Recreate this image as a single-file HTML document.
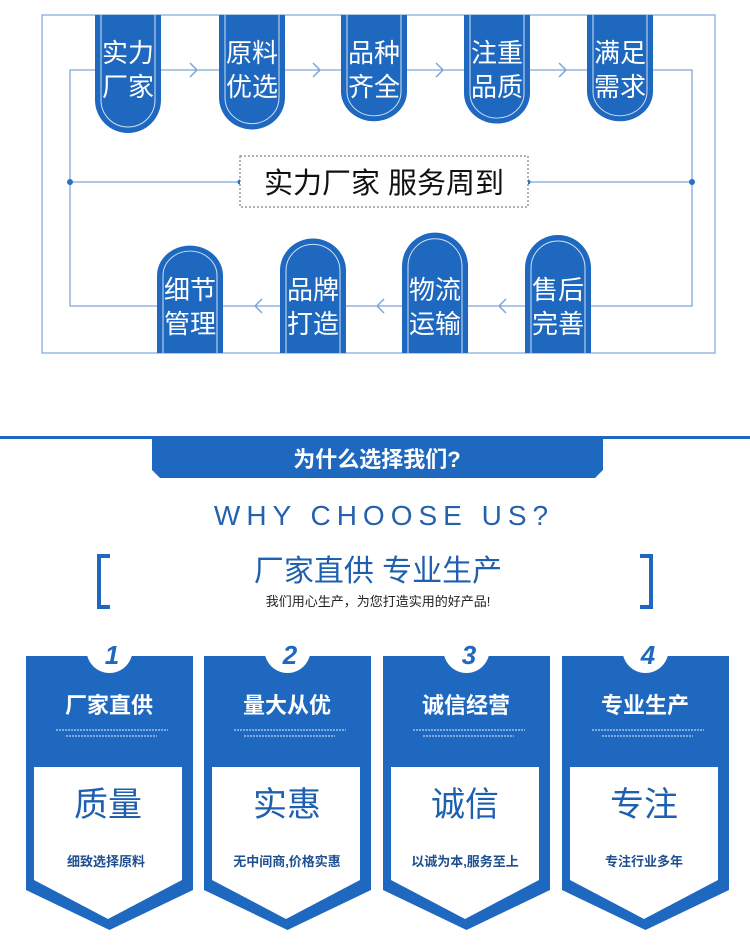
<!DOCTYPE html>
<html><head><meta charset="utf-8">
<style>
html,body{margin:0;padding:0;background:#fff;}
svg{display:block;}
text{font-family:"Liberation Sans","Noto Sans CJK SC",sans-serif;}
</style></head>
<body>
<svg width="750" height="952" viewBox="0 0 750 952" xmlns="http://www.w3.org/2000/svg">
<defs>
<g id="pillT"><path d="M-33,0 V85 A33,33 0 0 0 33,85 V0 Z" fill="#1e68bf"/><path d="M-27,0 V85 A27,27 0 0 0 27,85 V0" fill="none" stroke="#fff" stroke-width="1" opacity="0.8"/></g>
<g id="pillB"><path d="M-33,0 V-85 A33,33 0 0 1 33,-85 V0 Z" fill="#1e68bf"/><path d="M-27,0 V-85 A27,27 0 0 1 27,-85 V0" fill="none" stroke="#fff" stroke-width="1" opacity="0.8"/></g>
</defs>
<rect x="42" y="15" width="673" height="338" fill="none" stroke="#7da6d8" stroke-width="1.2"/>
<path d="M70,70 H692 V306 H70 Z" fill="none" stroke="#5b8fcc" stroke-width="1"/>
<line x1="70" y1="182" x2="240" y2="182" stroke="#5b8fcc"/>
<line x1="528" y1="182" x2="692" y2="182" stroke="#5b8fcc"/>
<circle cx="70" cy="182" r="3" fill="#2a6fc0"/><circle cx="692" cy="182" r="3" fill="#2a6fc0"/>
<circle cx="240" cy="182" r="2.5" fill="#2a6fc0"/><circle cx="528" cy="182" r="2.5" fill="#2a6fc0"/>
<rect x="240" y="156" width="288" height="51" fill="#fff" stroke="#666" stroke-dasharray="2,2"/>
<text x="384" y="193" font-size="29" text-anchor="middle" fill="#111">实力厂家 服务周到</text>
<g fill="none" stroke="#7da6d8" stroke-width="1.5">
<path d="M190,63 l7,7 l-7,7"/><path d="M313,63 l7,7 l-7,7"/><path d="M436,63 l7,7 l-7,7"/><path d="M559,63 l7,7 l-7,7"/>
<path d="M262,299 l-7,7 l7,7"/><path d="M384,299 l-7,7 l7,7"/><path d="M506,299 l-7,7 l7,7"/>
</g>
<use href="#pillT" x="128" y="15"/>
<g transform="translate(252,15) scale(1,0.97)"><use href="#pillT"/></g>
<g transform="translate(374,15) scale(1,0.9)"><use href="#pillT"/></g>
<g transform="translate(497,15) scale(1,0.92)"><use href="#pillT"/></g>
<g transform="translate(620,15) scale(1,0.9)"><use href="#pillT"/></g>
<g font-size="26" fill="#fff" text-anchor="middle">
<text x="128" y="62">实力</text><text x="128" y="96">厂家</text>
<text x="252" y="62">原料</text><text x="252" y="96">优选</text>
<text x="374" y="62">品种</text><text x="374" y="96">齐全</text>
<text x="497" y="62">注重</text><text x="497" y="96">品质</text>
<text x="620" y="62">满足</text><text x="620" y="96">需求</text>
</g>
<g transform="translate(190,353) scale(1,0.91)"><use href="#pillB"/></g>
<g transform="translate(313,353) scale(1,0.97)"><use href="#pillB"/></g>
<g transform="translate(435,353) scale(1,1.02)"><use href="#pillB"/></g>
<g transform="translate(558,353) scale(1,1.0)"><use href="#pillB"/></g>
<g font-size="26" fill="#fff" text-anchor="middle">
<text x="190" y="299">细节</text><text x="190" y="333">管理</text>
<text x="313" y="299">品牌</text><text x="313" y="333">打造</text>
<text x="435" y="299">物流</text><text x="435" y="333">运输</text>
<text x="558" y="299">售后</text><text x="558" y="333">完善</text>
</g>
<rect x="0" y="436" width="750" height="3" fill="#1e68bf"/>
<path d="M152,437 H603 V470 L595,478 H160 L152,470 Z" fill="#1e68bf"/>
<text x="377" y="467" font-size="22" font-weight="bold" fill="#fff" text-anchor="middle">为什么选择我们?</text>
<text x="384" y="525" font-size="28" fill="#2462ad" text-anchor="middle" letter-spacing="6">WHY CHOOSE US?</text>
<path d="M110,556 H99 V607 H110" fill="none" stroke="#1e68bf" stroke-width="4"/>
<path d="M640,556 H651 V607 H640" fill="none" stroke="#1e68bf" stroke-width="4"/>
<text x="378" y="581" font-size="30" fill="#1e5fb0" text-anchor="middle">厂家直供 专业生产</text>
<text x="378" y="606" font-size="13" fill="#222" text-anchor="middle">我们用心生产，为您打造实用的好产品!</text>
<g><path d="M26,656 H193 V890 L109.5,930 L26,890 Z" fill="#1e68bf"/><path d="M34,767 H182 V880 L108,919 L34,880 Z" fill="#fff"/><circle cx="109.5" cy="650" r="23" fill="#fff"/></g>
<g transform="translate(178,0)"><path d="M26,656 H193 V890 L109.5,930 L26,890 Z" fill="#1e68bf"/><path d="M34,767 H182 V880 L108,919 L34,880 Z" fill="#fff"/><circle cx="109.5" cy="650" r="23" fill="#fff"/></g>
<g transform="translate(357,0)"><path d="M26,656 H193 V890 L109.5,930 L26,890 Z" fill="#1e68bf"/><path d="M34,767 H182 V880 L108,919 L34,880 Z" fill="#fff"/><circle cx="109.5" cy="650" r="23" fill="#fff"/></g>
<g transform="translate(536,0)"><path d="M26,656 H193 V890 L109.5,930 L26,890 Z" fill="#1e68bf"/><path d="M34,767 H182 V880 L108,919 L34,880 Z" fill="#fff"/><circle cx="109.5" cy="650" r="23" fill="#fff"/></g>
<g font-size="26" font-weight="bold" font-style="italic" fill="#1e68bf" text-anchor="middle">
<text x="112" y="664">1</text><text x="290" y="664">2</text><text x="469" y="664">3</text><text x="648" y="664">4</text>
</g>
<g font-size="22" font-weight="bold" fill="#fff" text-anchor="middle">
<text x="109" y="713">厂家直供</text><text x="287" y="713">量大从优</text><text x="466" y="713">诚信经营</text><text x="645" y="713">专业生产</text>
</g>
<g stroke="#9fc0ea" stroke-width="1.5" stroke-dasharray="2,1">
<line x1="56" y1="730" x2="168" y2="730"/><line x1="66" y1="736" x2="157" y2="736"/>
<line x1="234" y1="730" x2="346" y2="730"/><line x1="244" y1="736" x2="335" y2="736"/>
<line x1="413" y1="730" x2="525" y2="730"/><line x1="423" y1="736" x2="514" y2="736"/>
<line x1="592" y1="730" x2="704" y2="730"/><line x1="602" y1="736" x2="693" y2="736"/>
</g>
<g font-size="34" fill="#1e5fb0" text-anchor="middle">
<text x="108" y="816">质量</text><text x="287" y="816">实惠</text><text x="465" y="816">诚信</text><text x="644" y="816">专注</text>
</g>
<g font-size="13" font-weight="bold" fill="#1e4f90" text-anchor="middle">
<text x="106" y="866">细致选择原料</text><text x="287" y="866">无中间商,价格实惠</text><text x="465" y="866">以诚为本,服务至上</text><text x="644" y="866">专注行业多年</text>
</g>
</svg>
</body></html>
